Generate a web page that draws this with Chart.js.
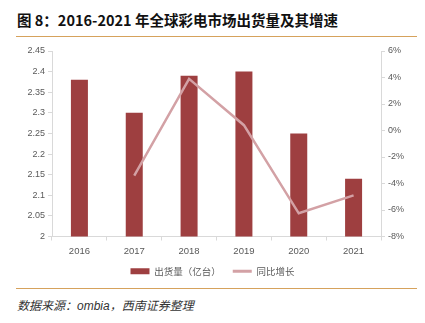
<!DOCTYPE html>
<html>
<head>
<meta charset="utf-8">
<script src="https://cdn.jsdelivr.net/npm/chart.js@4.4.1/dist/chart.umd.min.js"></script>
<style>
  html, body { margin: 0; padding: 0; background: #fff; }
  #wrap { position: relative; width: 425px; height: 323px; overflow: hidden; }
  #title { position: absolute; left: 17px; top: 9px; font: bold 14.5px "Noto Sans CJK SC", "Liberation Sans", sans-serif; color: #111; white-space: nowrap; }
  .rule { position: absolute; left: 16px; width: 401px; height: 0; border-top: 1.5px solid #d6a25c; }
  #source { position: absolute; left: 17px; top: 296px; font: italic 12px "Liberation Sans", "Noto Sans CJK SC", sans-serif; color: #333; white-space: nowrap; }
  #box { position: absolute; left: 0; top: 40px; width: 425px; height: 246px; }
</style>
</head>
<body>
<div id="wrap">
  <div id="title">图 8：2016-2021 年全球彩电市场出货量及其增速</div>
  <div class="rule" style="top:36px"></div>
  <div id="box"><canvas id="chart"></canvas></div>
  <div class="rule" style="top:288px"></div>
  <div id="source">数据来源：ombia，西南证券整理</div>
</div>
<script>
// Global TV shipments (100 million units) and year-over-year growth (%)
const years = ['2016', '2017', '2018', '2019', '2020', '2021'];
const shipments = [2.38, 2.30, 2.39, 2.40, 2.25, 2.14];
const growth = [null, -3.4, 3.9, 0.4, -6.25, -4.9];
const leftTicks = [2, 2.05, 2.1, 2.15, 2.2, 2.25, 2.3, 2.35, 2.4, 2.45];
const rightTicks = [-8, -6, -4, -2, 0, 2, 4, 6];

const barColor = '#9e3f40';
const lineColor = '#d3a1a5';
const axisColor = '#d9d9d9';
const tickColor = '#595959';
const latin = '"Liberation Sans", "Noto Sans CJK SC", sans-serif';

new Chart(document.getElementById('chart'), {
  data: {
    labels: years,
    datasets: [
      {
        type: 'line',
        label: '同比增长',
        data: growth,
        yAxisID: 'y1',
        borderColor: lineColor,
        backgroundColor: lineColor,
        borderWidth: 2.5,
        pointRadius: 0,
        tension: 0,
        order: 0
      },
      {
        type: 'bar',
        label: '出货量（亿台）',
        data: shipments,
        yAxisID: 'y',
        backgroundColor: barColor,
        borderWidth: 0,
        barPercentage: 0.62,
        categoryPercentage: 0.5,
        order: 1
      }
    ]
  },
  options: {
    responsive: true,
    maintainAspectRatio: false,
    animation: false,
    layout: { padding: { top: 11, bottom: 0, left: 0, right: 0 } },
    plugins: {
      tooltip: { enabled: false },
      legend: {
        position: 'bottom',
        reverse: true,
        labels: {
          usePointStyle: true,
          pointStyleWidth: 19,
          boxHeight: 6,
          padding: 12,
          color: tickColor,
          font: { family: '"Noto Sans CJK SC", sans-serif', size: 9.5 },
          generateLabels(chart) {
            return chart.data.datasets.map((ds, i) => ({
              text: ds.label,
              datasetIndex: i,
              fillStyle: ds.type === 'bar' ? barColor : lineColor,
              strokeStyle: ds.type === 'bar' ? barColor : lineColor,
              lineWidth: ds.type === 'bar' ? 0 : 3,
              pointStyle: ds.type === 'bar' ? 'rect' : 'line',
              fontColor: tickColor,
              hidden: false
            }));
          }
        }
      }
    },
    scales: {
      x: {
        grid: { drawOnChartArea: false, drawTicks: true, tickLength: 4, color: axisColor, offset: true },
        border: { color: axisColor, width: 1 },
        ticks: { color: tickColor, font: { family: latin, size: 9.5 }, padding: 5 },
        afterFit(s) { s.height = 18; }
      },
      y: {
        position: 'left',
        min: 2,
        max: 2.45,
        afterBuildTicks(s) { s.ticks = leftTicks.map(v => ({ value: v })); },
        grid: { drawOnChartArea: false, drawTicks: true, tickLength: 4, color: axisColor },
        border: { color: axisColor, width: 1 },
        ticks: { color: tickColor, font: { family: latin, size: 9 }, padding: 3, callback: v => String(v) },
        afterFit(s) { s.width = 52; }
      },
      y1: {
        position: 'right',
        min: -8,
        max: 6,
        afterBuildTicks(s) { s.ticks = rightTicks.map(v => ({ value: v })); },
        grid: { drawOnChartArea: false, drawTicks: true, tickLength: 4, color: axisColor },
        border: { color: axisColor, width: 1 },
        ticks: { color: tickColor, font: { family: latin, size: 9 }, padding: 3, callback: v => v + '%' },
        afterFit(s) { s.width = 44; }
      }
    }
  }
});
</script>
</body>
</html>
